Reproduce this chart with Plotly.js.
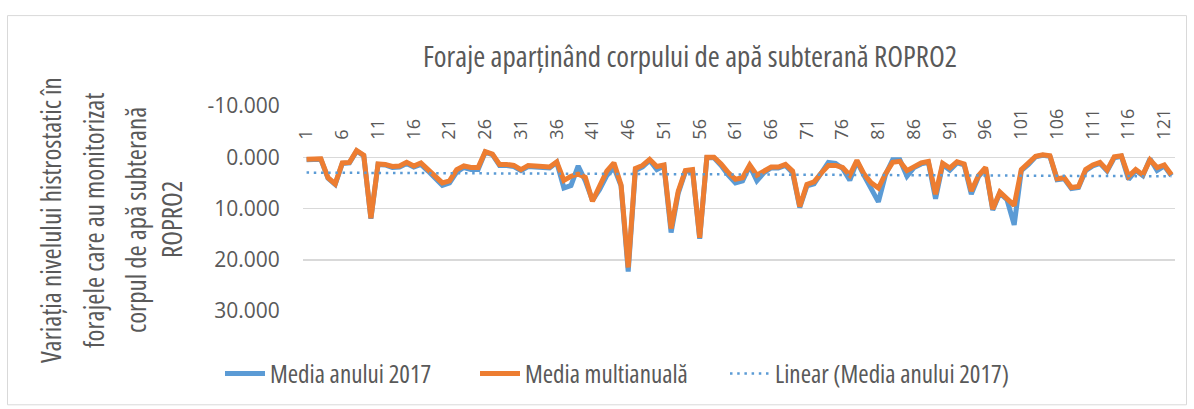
<!DOCTYPE html>
<html>
<head>
<meta charset="utf-8">
<script src="https://cdn.plot.ly/plotly-3.0.1.min.js"></script>
<style>
html,body{margin:0;padding:0;background:#fff;}
#chart{width:1194px;height:409px;}
.infolayer text, .gtitle, .annotation-text, .legendtext, text.legendtext { font-stretch: 62.5% !important; }
</style>
</head>
<body>
<div id="chart"></div>
<script>
const categories = Array.from({length: 122}, (_, i) => i + 1);

const media2017 = [
  0.5,0.4,0.4,4.1,5.3,1.2,1.1,-1.2,-0.3,12.0,
  1.4,1.5,2.0,1.9,1.2,1.9,1.4,2.7,4.0,5.5,
  5.0,2.9,2.0,2.4,2.4,-1.0,-0.5,1.6,1.6,1.8,
  2.6,1.8,1.9,2.1,2.1,1.0,6.0,5.5,1.7,4.6,
  8.4,6.3,3.6,2.0,5.6,22.3,2.6,1.9,0.6,2.4,
  1.7,14.7,7.0,2.8,2.6,15.9,0.1,0.1,1.6,3.5,
  5.0,4.6,1.7,4.6,3.0,2.1,2.1,1.6,3.0,9.8,
  5.6,5.2,3.2,1.0,1.2,2.2,4.5,0.8,3.6,6.2,
  8.7,3.4,0.5,0.5,3.7,2.0,1.3,1.0,8.1,1.4,
  2.5,1.1,1.5,7.2,3.8,2.2,10.3,7.0,8.3,13.2,
  2.6,1.4,-0.1,-0.4,-0.2,4.4,4.2,6.1,5.9,2.6,
  1.7,1.2,2.7,0.1,-0.2,4.3,2.6,3.6,0.3,2.6,
  1.7,3.6
];

const mediaMulti = [
  0.4,0.3,0.3,4.0,5.2,1.1,1.0,-1.3,-0.4,11.9,
  1.3,1.4,1.8,1.7,1.0,1.7,1.1,2.4,3.7,5.0,
  4.6,2.4,1.7,2.0,2.0,-1.1,-0.6,1.4,1.4,1.6,
  2.4,1.6,1.7,1.9,1.9,0.9,4.5,3.7,3.3,3.9,
  8.6,5.6,2.7,1.1,5.4,21.5,2.2,1.6,0.4,1.8,
  1.5,13.9,6.6,2.6,2.4,15.7,0.0,0.0,1.3,3.0,
  4.3,4.0,1.5,3.5,2.6,1.9,1.9,1.4,2.7,9.6,
  5.3,4.8,3.1,1.6,1.6,2.0,3.5,0.6,3.3,5.0,
  6.0,3.2,1.0,0.8,2.6,1.8,1.1,0.8,7.2,1.2,
  2.1,0.9,1.3,6.6,3.6,2.0,10.1,6.8,8.1,9.4,
  2.4,1.2,-0.2,-0.5,-0.3,4.2,4.0,5.9,5.7,2.4,
  1.5,1.0,2.5,-0.1,-0.3,3.7,2.4,3.4,0.5,2.0,
  1.5,3.4
];

const yTickVals = [-10, 0, 10, 20, 30];
const yTickText = ["-10.000", "0.000", "10.000", "20.000", "30.000"];

const titleText = "Foraje aparținând corpului de apă subterană ROPRO2";
const yTitleLines = [
  "Variația nivelului histrostatic în",
  "forajele care au monitorizat",
  "corpul de apă subterană",
  "ROPRO2"
];
const seriesNames = ["Media anului 2017", "Media multianuală", "Linear (Media anului 2017)"];

const n = categories.length;
let sx = 0, sy = 0, sxy = 0, sxx = 0;
for (let i = 0; i < n; i++) {
  sx += categories[i]; sy += media2017[i];
  sxy += categories[i] * media2017[i]; sxx += categories[i] * categories[i];
}
const slope = (n * sxy - sx * sy) / (n * sxx - sx * sx);
const intercept = (sy - slope * sx) / n;
const trend = categories.map(x => intercept + slope * x);

const narrow = '"Open Sans", sans-serif';
const tickFont = '"Open Sans", "Liberation Sans", sans-serif';
const grey = '#595959';

const L = 303, R = 1175, T = 106, B = 318;
const px = v => (v - L) / (R - L);
const py = v => (B - v) / (B - T);

const traces = [
  {x: categories, y: media2017, type: 'scatter', mode: 'lines', name: seriesNames[0],
   legend: 'legend', line: {color: '#5B9BD5', width: 5}},
  {x: categories, y: mediaMulti, type: 'scatter', mode: 'lines', name: seriesNames[1],
   legend: 'legend2', line: {color: '#ED7D31', width: 5}},
  {x: categories, y: trend, type: 'scatter', mode: 'lines', name: seriesNames[2],
   legend: 'legend3', line: {color: '#5B9BD5', width: 2.5, dash: '2.5px,4.7px'}}
];

const annotations = yTitleLines.map((t, i) => ({
  text: t, textangle: -90, showarrow: false,
  xref: 'paper', yref: 'paper',
  x: px([50, 93, 135, 171][i]), y: py(224),
  xanchor: 'center', yanchor: 'middle',
  font: {family: narrow, size: 27, color: grey}
}));

const legendBase = (xpix) => ({
  orientation: 'h', x: px(xpix), xanchor: 'left', y: py(383), yanchor: 'middle',
  font: {family: narrow, size: 25, color: grey}, itemwidth: 40, bgcolor: 'rgba(0,0,0,0)'
});

const layout = {
  width: 1194, height: 409,
  margin: {l: L, r: 1194 - R, t: T, b: 409 - B, pad: 0},
  paper_bgcolor: '#ffffff', plot_bgcolor: '#ffffff',
  title: {text: titleText, x: 690 / 1194, xref: 'container', xanchor: 'center',
          y: 1 - 57 / 409, yref: 'container', yanchor: 'middle',
          font: {family: narrow, size: 29, color: grey}},
  xaxis: {
    range: [0.5, 122.5], tickmode: 'linear', tick0: 1, dtick: 5,
    anchor: 'free', position: 0.75, side: 'top',
    tickangle: -90, showgrid: false, zeroline: false, showline: false,
    ticks: 'outside', ticklen: 14, tickcolor: 'rgba(0,0,0,0)',
    tickfont: {family: tickFont, size: 18, color: grey}
  },
  yaxis: {
    range: [30, -10], tickvals: yTickVals, ticktext: yTickText,
    showgrid: true, gridcolor: '#D9D9D9', gridwidth: 1.5,
    zeroline: false, showline: false,
    ticks: 'outside', ticklen: 18, tickcolor: 'rgba(0,0,0,0)',
    tickfont: {family: tickFont, size: 21, color: grey}
  },
  showlegend: true,
  legend: legendBase(220),
  legend2: legendBase(475),
  legend3: legendBase(725),
  annotations: annotations,
  shapes: [{type: 'rect', xref: 'paper', yref: 'paper',
            x0: px(7.5), x1: px(1186.5), y0: py(415), y1: py(12.5),
            line: {color: '#D9D9D9', width: 1}, layer: 'below'}]
};

Plotly.newPlot('chart', traces, layout, {displayModeBar: false, staticPlot: true});
</script>
</body>
</html>
